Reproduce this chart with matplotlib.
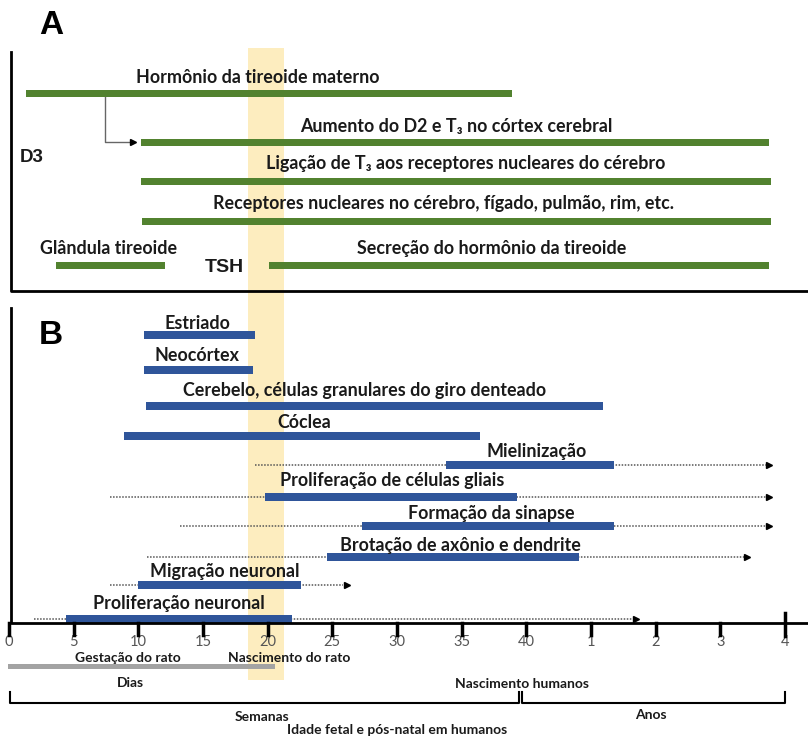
import matplotlib
matplotlib.use("Agg")
import matplotlib.pyplot as plt

# painel A (eixo x em "semanas"; 45..60 = 1..4 anos)
top_labels = ["Hormônio da tireoide materno",
              "Aumento do D2 e T₃ no córtex cerebral",
              "Ligação de T₃ aos receptores nucleares do cérebro",
              "Receptores nucleares no cérebro, fígado, pulmão, rim, etc.",
              "Glândula tireoide",
              "Secreção do hormônio da tireoide"]
top_start = [1.3, 10.2, 10.2, 10.3, 3.6, 20.1]
top_end = [38.9, 58.8, 58.9, 58.9, 12.1, 58.8]

# painel B
b_labels = ["Estriado", "Neocórtex",
            "Cerebelo, células granulares do giro denteado",
            "Cóclea", "Mielinização", "Proliferação de células gliais",
            "Formação da sinapse", "Brotação de axônio e dendrite",
            "Migração neuronal", "Proliferação neuronal"]
b_start = [10.4, 10.4, 10.6, 8.9, 33.8, 19.8, 27.3, 24.6, 10.0, 4.4]
b_end = [19.0, 18.9, 45.9, 36.4, 46.8, 39.3, 46.8, 44.1, 22.6, 21.9]
dot_start = [None, None, None, None, 19.0, 7.8, 13.2, 10.7, 7.8, 1.9]
dot_end = [None, None, None, None, 58.8, 58.8, 58.8, 57.1, 26.1, 48.5]

tick_pos = [0, 5, 10, 15, 20, 25, 30, 35, 40, 45, 50, 55, 60]
tick_labels = ["0", "5", "10", "15", "20", "25", "30", "35", "40", "1", "2", "3", "4"]

birth_band = (18.5, 21.3)
rat_gestation = (-0.1, 20.6)

GREEN = "#52822f"
BLUE = "#2f559a"
TXT = "#1a1a1a"
FONT = ["Lato", "DejaVu Sans"]

plt.rcParams["font.family"] = FONT

fig = plt.figure(figsize=(8.08, 7.37), dpi=100)
ax = fig.add_axes([0, 0, 1, 1])
ax.set_xlim(-0.696, 61.78)
ax.set_ylim(737, 0)
ax.axis("off")

# faixa de nascimento
ax.axvspan(birth_band[0], birth_band[1], ymin=1 - 680 / 737, ymax=1 - 48 / 737,
           color="#fdedbf", zorder=0, lw=0)

# ---- painel A ----
top_y = [93, 142, 181, 221, 265, 265]
top_tx = [19.25, 34.6, 35.3, 33.6, 7.7, 37.3]
top_ty = [77, 126, 163, 203, 248, 248]
for i in range(len(top_labels)):
    ax.barh(top_y[i], top_end[i] - top_start[i], left=top_start[i], height=7,
            color=GREEN, zorder=3)
    ax.text(top_tx[i], top_ty[i], top_labels[i], ha="center", va="center",
            fontsize=12.9, fontweight="bold", color=TXT)

ax.plot([7.4, 7.4, 9.3], [97, 142, 142], color="#666666", lw=1, zorder=2)
ax.plot(9.6, 142, marker=">", ms=4, color="black", zorder=2)

ax.text(0.8, 157, "D3", ha="left", va="center", fontsize=13.5, fontweight="bold",
        family="Liberation Sans", color=TXT)
ax.text(15.1, 267, "TSH", ha="left", va="center", fontsize=14, fontweight="bold",
        family="Liberation Sans", color=TXT)
ax.text(2.3, 25, "A", ha="left", va="center", fontsize=24, fontweight="bold",
        family="Liberation Sans", color="black")

ax.plot([0.15, 0.15, 61.78], [52, 291, 291], color="black", lw=2, zorder=4)

# ---- painel B ----
b_y = [335, 370, 406, 436, 465, 497, 526, 557, 585, 619]
b_tx = [14.6, 14.5, 27.5, 22.8, 40.8, 29.6, 37.3, 34.9, 16.7, 13.1]
b_ty = [323, 355, 390, 422, 451, 480, 513, 545, 571, 604]
for i in range(len(b_labels)):
    if dot_start[i] is not None:
        ax.plot([dot_start[i], dot_end[i] - 0.3], [b_y[i], b_y[i]], color="#555555",
                lw=1.1, ls=(0, (1, 1)), zorder=2)
        ax.plot(dot_end[i], b_y[i], marker=">", ms=4.5, color="black", zorder=2)
    ax.barh(b_y[i], b_end[i] - b_start[i], left=b_start[i], height=8,
            color=BLUE, zorder=3)
    ax.text(b_tx[i], b_ty[i], b_labels[i], ha="center", va="center",
            fontsize=12.9, fontweight="bold", color=TXT)

ax.text(2.3, 335, "B", ha="left", va="center", fontsize=24, fontweight="bold",
        family="Liberation Sans", color="black")

ax.plot([0.15, 0.15, 61.78], [308, 623, 623], color="black", lw=2, zorder=4)

# eixo de tempo
for p, lab in zip(tick_pos, tick_labels):
    if p == 60:
        ax.plot([p, p], [613, 636], color="black", lw=2.5, zorder=4)
    else:
        ax.plot([p, p], [623, 635], color="black", lw=2.5, zorder=4)
    ax.text(p, 642, lab, ha="center", va="center", fontsize=10.5, color="#555555")

ax.barh(666, rat_gestation[1] - rat_gestation[0], left=rat_gestation[0], height=5,
        color="#a3a3a3", zorder=3)

small = dict(ha="center", va="center", fontsize=10, fontweight="bold", color=TXT)
ax.text(9.2, 658, "Gestação do rato", **small)
ax.text(21.7, 658, "Nascimento do rato", **small)
ax.text(9.4, 683, "Dias", **small)
ax.text(39.7, 684, "Nascimento humanos", **small)
ax.text(19.6, 717, "Semanas", **small)
ax.text(49.6, 715, "Anos", **small)
ax.text(30.0, 730, "Idade fetal e pós-natal em humanos", **small)

# chaves
ax.plot([0.08, 0.08, 39.4, 39.4], [692, 703, 703, 692], color="black", lw=1.5)
ax.plot([39.7, 39.7, 60, 60], [692, 703, 703, 692], color="black", lw=1.5)

fig.savefig("out.png", dpi=100)
